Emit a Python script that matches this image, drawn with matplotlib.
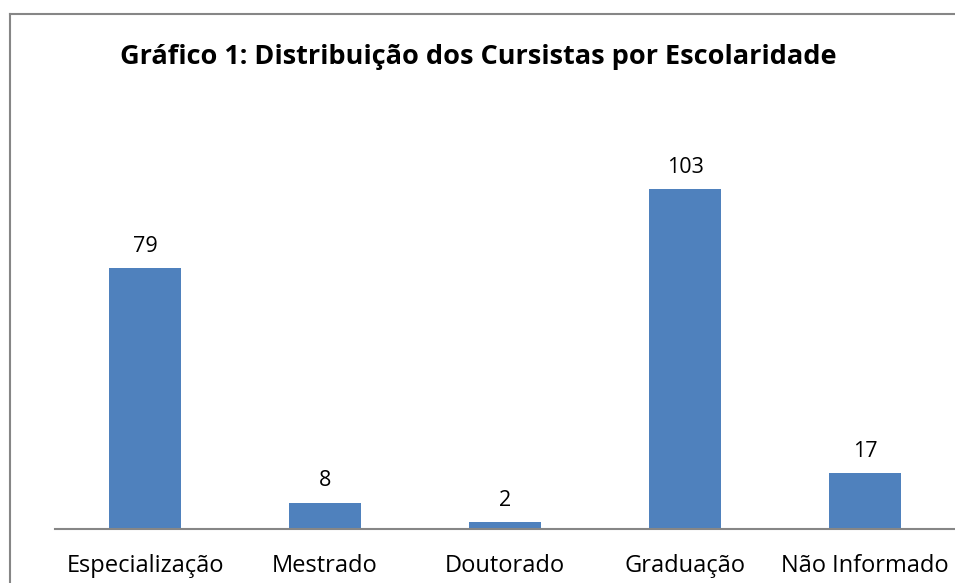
import matplotlib.pyplot as plt
from matplotlib.lines import Line2D

# dados do grafico
categorias = ['Especialização', 'Mestrado', 'Doutorado', 'Graduação', 'Não Informado']
cursistas = [79, 8, 2, 103, 17]
titulo = 'Gráfico 1: Distribuição dos Cursistas por Escolaridade'

plt.rcParams['font.family'] = ['Open Sans', 'DejaVu Sans']

fig = plt.figure(figsize=(9.55, 5.83), dpi=100)
ax = fig.add_axes([55 / 955, 54 / 583, 900 / 955, 396 / 583])

x = range(len(categorias))
bars = ax.bar(x, cursistas, width=0.4, color='#4F81BD')

for b, v in zip(bars, cursistas):
    ax.annotate(str(v), (b.get_x() + b.get_width() / 2, v), xytext=(0, 8),
                textcoords='offset points', ha='center', va='bottom', fontsize=15.5)

ax.set_xlim(-0.5, len(categorias) - 0.5)
ax.set_ylim(0, 120)
ax.set_xticks(list(x))
ax.set_xticklabels(categorias, fontsize=17)
ax.tick_params(axis='x', length=0, pad=18)
ax.set_yticks([])
for s in ['top', 'right', 'left']:
    ax.spines[s].set_visible(False)
ax.spines['bottom'].set_color('#868686')
ax.spines['bottom'].set_linewidth(1.5)

fig.text(478 / 955, 1 - 57 / 583, titulo, ha='center', va='center',
         fontsize=19.5, fontweight='bold')

# borda do grafico (cortada em baixo e a direita)
fig.add_artist(Line2D([9.5 / 955, 9.5 / 955], [0, 1 - 13.5 / 583], color='#868686', lw=1.5))
fig.add_artist(Line2D([9.5 / 955, 1], [1 - 13.5 / 583, 1 - 13.5 / 583], color='#868686', lw=1.5))

plt.savefig('out.png', dpi=100)
